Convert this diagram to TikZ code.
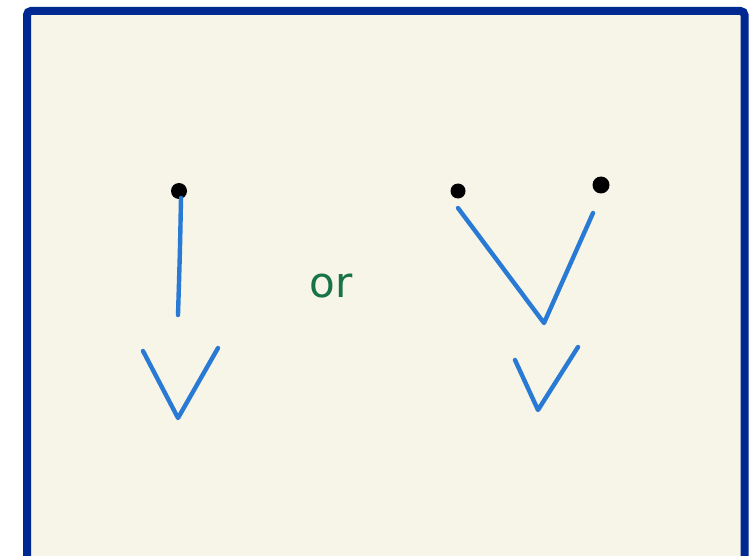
\documentclass[tikz,border=0pt]{standalone}
\usepackage{fontspec}
\newfontfamily\hand{DejaVu Sans}
\definecolor{bgcream}{RGB}{247,244,232}
\definecolor{framebl}{RGB}{0,40,145}
\definecolor{penblue}{RGB}{40,122,212}
\definecolor{pengreen}{RGB}{24,115,70}
\begin{document}
\begin{tikzpicture}[x=1pt,y=-1pt,
  stroke/.style={draw=penblue,line width=4.4pt,line cap=round,line join=round},
  dotmark/.style={circle,fill=black,inner sep=0pt,minimum size=16pt}]
\useasboundingbox (0,0) rectangle (749,556);
\fill[white] (0,0) rectangle (749,556);
\draw[framebl,fill=bgcream,line width=8pt,rounded corners=4pt] (27,11) rectangle (744.5,561);
% left
\node[dotmark] (d1) at (179,191) {};
\coordinate (l1) at (181,198);
\coordinate (l2) at (178,315);
\draw[stroke] (l1) .. controls (180,250) .. (l2);
\coordinate (va) at (143,351);
\coordinate (vb) at (178,418);
\coordinate (vc) at (218,348);
\draw[stroke] (va) -- (vb) -- (vc);
% or
\node[text=pengreen,font=\hand\fontsize{42}{42}\selectfont,inner sep=0pt,anchor=base] (or) at (331,297) {or};
% right
\node[dotmark,minimum size=15pt] (d2) at (458,191) {};
\node[dotmark,minimum size=17pt] (d3) at (601,185) {};
\coordinate (ra) at (458,208);
\coordinate (rb) at (544,323);
\coordinate (rc) at (593,213);
\draw[stroke] (ra) -- (rb) -- (rc);
\coordinate (sa) at (515,360);
\coordinate (sb) at (538,410);
\coordinate (sc) at (578,347);
\draw[stroke] (sa) -- (sb) -- (sc);
\end{tikzpicture}
\end{document}
